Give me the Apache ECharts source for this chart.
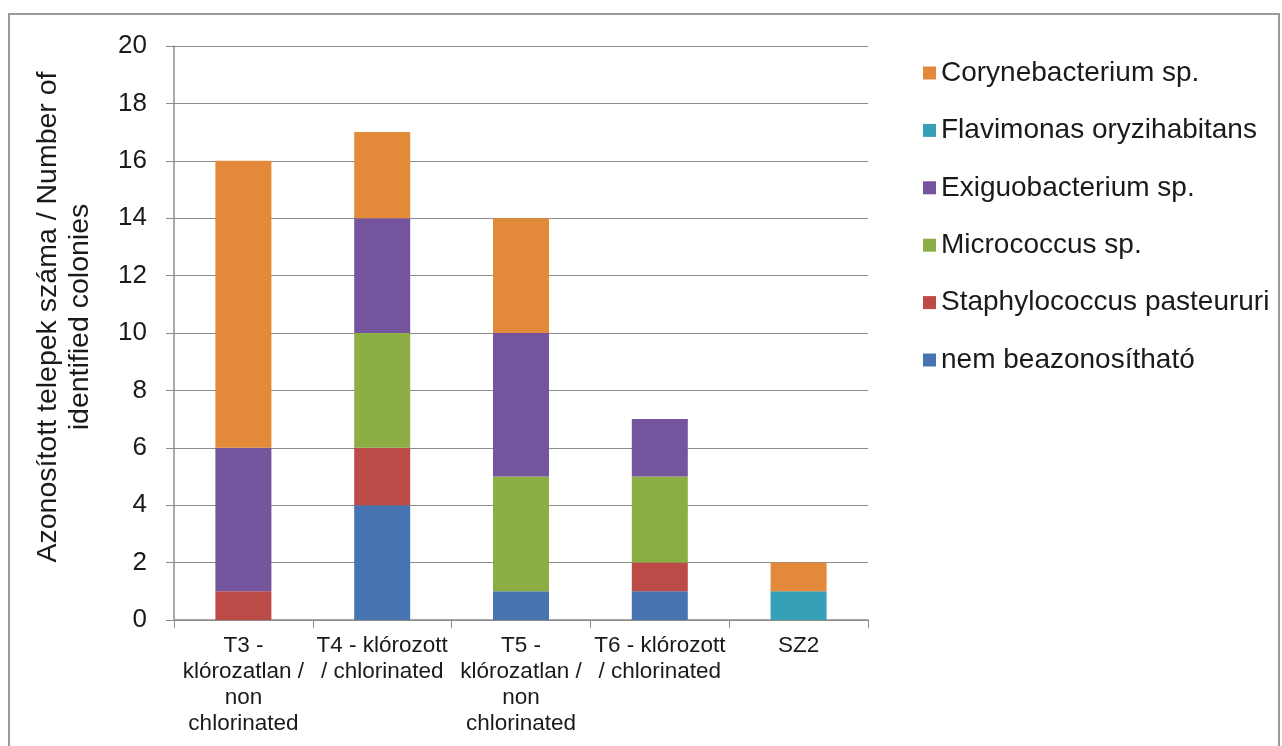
<!DOCTYPE html>
<html>
<head>
<meta charset="utf-8">
<script src="https://cdn.jsdelivr.net/npm/echarts@6/dist/echarts.min.js"></script>
<style>
    html, body { margin: 0; padding: 0; background: #fff; }
    #frame {
        position: absolute; left: 8px; top: 13px; width: 1272px; height: 760px;
        border: 2px solid #9a9a9a; box-sizing: border-box;
    }
    #chart { position: absolute; left: 0; top: 0; width: 1282px; height: 746px; }
</style>
</head>
<body>
<div id="frame"></div>
<div id="chart"></div>
<script>
// categories and values (bottom of stack first)
const categories = [
    'T3 -\nklórozatlan /\nnon\nchlorinated',
    'T4 - klórozott\n/ chlorinated',
    'T5 -\nklórozatlan /\nnon\nchlorinated',
    'T6 - klórozott\n/ chlorinated',
    'SZ2'
];
const nemBeazonosithato = [0, 4, 1, 1, 0];
const staphylococcus = [1, 2, 0, 1, 0];
const micrococcus = [0, 4, 4, 3, 0];
const exiguobacterium = [5, 4, 5, 2, 0];
const flavimonas = [0, 0, 0, 0, 1];
const corynebacterium = [10, 3, 4, 0, 1];

const seriesNames = [
    'nem beazonosítható',
    'Staphylococcus pasteururi',
    'Micrococcus sp.',
    'Exiguobacterium sp.',
    'Flavimonas oryzihabitans',
    'Corynebacterium sp.'
];
const seriesData = [nemBeazonosithato, staphylococcus, micrococcus, exiguobacterium, flavimonas, corynebacterium];
const colors = ['#4674b0', '#bc4a46', '#8cae44', '#74549c', '#35a0b6', '#e2893a'];

const chart = echarts.init(document.getElementById('chart'));
const font = 'Liberation Sans, Arial, sans-serif';

let series = seriesNames.map((name, i) => ({
    name: name,
    type: 'bar',
    stack: 'total',
    barWidth: 56,
    data: seriesData[i],
    itemStyle: { color: colors[i] }
}));

const option = {
    animation: false,
    grid: { left: 174, top: 46, right: 414, bottom: 126, containLabel: false },
    legend: {
        orient: 'vertical',
        left: 918,
        top: 54,
        itemWidth: 13,
        itemHeight: 13,
        itemGap: 29.4,
        icon: 'rect',
        data: seriesNames.slice().reverse(),
        textStyle: { fontFamily: font, fontSize: 28, lineHeight: 28, color: '#1a1a1a' }
    },
    xAxis: {
        type: 'category',
        data: categories,
        axisLine: { lineStyle: { color: '#8c8c8c', width: 1.5 } },
        axisTick: { show: true, length: 8, lineStyle: { color: '#8c8c8c' } },
        axisLabel: {
            interval: 0,
            margin: 13,
            fontFamily: font,
            fontSize: 22.5,
            lineHeight: 26,
            color: '#1a1a1a'
        }
    },
    yAxis: {
        type: 'value',
        min: 0,
        max: 20,
        interval: 2,
        name: 'Azonosított telepek száma / Number of\nidentified colonies',
        nameLocation: 'middle',
        nameGap: 78,
        nameTextStyle: {
            fontFamily: font, fontSize: 28.5, color: '#1a1a1a', lineHeight: 32,
            align: 'center', padding: [0, 0, 0, 32]
        },
        axisLine: { show: true, lineStyle: { color: '#8c8c8c', width: 1.5 } },
        axisTick: { show: true, length: 8, lineStyle: { color: '#8c8c8c' } },
        splitLine: { lineStyle: { color: '#8c8c8c', width: 1.2 } },
        axisLabel: { fontFamily: font, fontSize: 26, color: '#1a1a1a', margin: 27 }
    },
    series: series
};

option && chart.setOption(option);
</script>
</body>
</html>
